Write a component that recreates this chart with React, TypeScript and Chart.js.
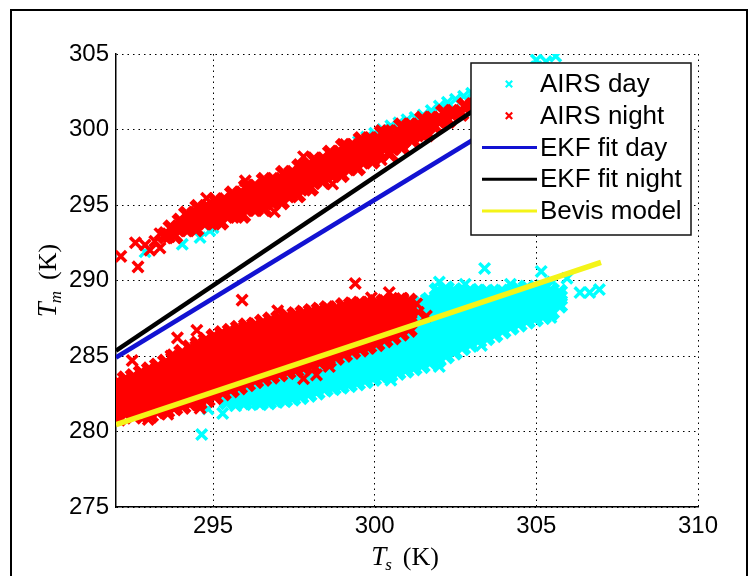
import React, { useEffect, useRef } from 'react';
import { Chart, registerables } from 'chart.js';

Chart.register(...registerables);

// ---------- axes ----------
const xRange = [292, 310];
const yRange = [275, 305];
const xTickValues = [295, 300, 305, 310];
const yTickValues = [275, 280, 285, 290, 295, 300, 305];

const seriesLabels = ['AIRS day', 'AIRS night', 'EKF fit day', 'EKF fit night', 'Bevis model'];

// ---------- AIRS night, upper cluster: rows [Tm, [Ts, ...]] ----------
const nightUpperRows: [number, number[]][] = [
  [293.0, [293.55, 293.8]],
  [293.45, [293.72, 293.95, 294.2, 294.45]],
  [293.9, [294.0, 294.25, 294.5, 294.75, 295.0, 295.22]],
  [294.35, [294.2, 294.45, 294.7, 294.95, 295.2, 295.45, 295.7, 295.9]],
  [294.8, [294.55, 294.8, 295.05, 295.3, 295.55, 295.8, 296.05, 296.3, 296.55]],
  [295.25, [295.1, 295.35, 295.6, 295.85, 296.1, 296.35, 296.6, 296.85, 297.1]],
  [295.7, [295.62, 295.87, 296.12, 296.37, 296.62, 296.87, 297.12, 297.37, 297.6]],
  [296.15, [296.05, 296.3, 296.55, 296.8, 297.05, 297.3, 297.55, 297.8, 298.0]],
  [296.6, [296.6, 296.85, 297.1, 297.35, 297.6, 297.85, 298.1, 298.38]],
  [297.05, [297.2, 297.45, 297.7, 297.95, 298.2, 298.45, 298.7, 298.95]],
  [297.5, [297.7, 297.95, 298.2, 298.45, 298.7, 298.95, 299.2, 299.45]],
  [297.95, [298.15, 298.4, 298.65, 298.9, 299.15, 299.4, 299.65, 299.9]],
  [298.4, [298.65, 298.9, 299.15, 299.4, 299.65, 299.9, 300.15, 300.45]],
  [298.85, [299.05, 299.3, 299.55, 299.8, 300.05, 300.3, 300.55, 300.82]],
  [299.3, [299.6, 299.85, 300.1, 300.35, 300.6, 300.85, 301.15]],
  [299.75, [300.25, 300.45, 300.7, 300.95, 301.2, 301.45, 301.6]],
  [300.2, [300.85, 301.1, 301.35, 301.6, 301.85]],
  [300.65, [301.5, 301.75, 302.0, 302.25]],
  [301.1, [302.15, 302.4, 302.65]],
  [301.55, [302.8, 303.05]],
  [302.0, [303.4, 303.6]],
];
const nightUpperExtra: number[][] = [
  [292.15, 291.6], [292.6, 292.5], [292.9, 292.35], [293.05, 292.0], [293.36, 292.15],
  [293.36, 293.1], [293.65, 292.9], [292.68, 290.9], [294.8, 295.45], [293.2, 292.6],
  [296.0, 296.6], [297.8, 298.2], [299.1, 299.0], [296.9, 294.55], [298.7, 296.4], [300.2, 298.0],
];

// ---------- AIRS night, lower cluster: columns [Ts, [Tm, ...]] ----------
const nightLowerCols: [number, number[]][] = [
  [292.05, [281.0, 281.45, 281.9, 282.35, 282.8, 283.25]],
  [292.3, [281.2, 281.65, 282.1, 282.55, 283.0, 283.45]],
  [292.55, [281.05, 281.5, 281.95, 282.4, 282.85, 283.3, 283.6]],
  [292.8, [281.25, 281.7, 282.15, 282.6, 283.05, 283.5, 283.85]],
  [293.05, [281.1, 281.55, 282.0, 282.45, 282.9, 283.35, 283.8, 284.05]],
  [293.3, [281.35, 281.8, 282.25, 282.7, 283.15, 283.6, 284.05, 284.3]],
  [293.55, [281.4, 281.85, 282.3, 282.75, 283.2, 283.65, 284.1, 284.55]],
  [293.8, [281.6, 282.05, 282.5, 282.95, 283.4, 283.85, 284.3, 284.75, 284.9]],
  [294.05, [281.7, 282.15, 282.6, 283.05, 283.5, 283.95, 284.4, 284.85, 285.2]],
  [294.3, [281.9, 282.35, 282.8, 283.25, 283.7, 284.15, 284.6, 285.05, 285.5]],
  [294.55, [281.95, 282.4, 282.85, 283.3, 283.75, 284.2, 284.65, 285.1, 285.55, 285.75]],
  [294.8, [282.15, 282.6, 283.05, 283.5, 283.95, 284.4, 284.85, 285.3, 285.75, 286.0]],
  [295.05, [282.35, 282.8, 283.25, 283.7, 284.15, 284.6, 285.05, 285.5, 285.95, 286.25]],
  [295.3, [282.6, 283.05, 283.5, 283.95, 284.4, 284.85, 285.3, 285.75, 286.2, 286.45]],
  [295.55, [282.8, 283.25, 283.7, 284.15, 284.6, 285.05, 285.5, 285.95, 286.4, 286.6]],
  [295.8, [283.0, 283.45, 283.9, 284.35, 284.8, 285.25, 285.7, 286.15, 286.6, 286.8]],
  [296.05, [283.2, 283.65, 284.1, 284.55, 285.0, 285.45, 285.9, 286.35, 286.8, 286.95]],
  [296.3, [283.4, 283.85, 284.3, 284.75, 285.2, 285.65, 286.1, 286.55, 287.0]],
  [296.55, [283.55, 284.0, 284.45, 284.9, 285.35, 285.8, 286.25, 286.7, 287.2]],
  [296.8, [283.7, 284.15, 284.6, 285.05, 285.5, 285.95, 286.4, 286.85, 287.35]],
  [297.05, [283.85, 284.3, 284.75, 285.2, 285.65, 286.1, 286.55, 287.0, 287.45]],
  [297.3, [284.0, 284.45, 284.9, 285.35, 285.8, 286.25, 286.7, 287.15, 287.6]],
  [297.55, [284.1, 284.55, 285.0, 285.45, 285.9, 286.35, 286.8, 287.25, 287.7]],
  [297.8, [284.25, 284.7, 285.15, 285.6, 286.05, 286.5, 286.95, 287.4, 287.8]],
  [298.05, [284.4, 284.85, 285.3, 285.75, 286.2, 286.65, 287.1, 287.55, 287.9]],
  [298.3, [284.6, 285.05, 285.5, 285.95, 286.4, 286.85, 287.3, 287.75, 288.0]],
  [298.55, [284.75, 285.2, 285.65, 286.1, 286.55, 287.0, 287.45, 287.9, 288.1]],
  [298.8, [284.95, 285.4, 285.85, 286.3, 286.75, 287.2, 287.65, 288.1]],
  [299.05, [285.15, 285.6, 286.05, 286.5, 286.95, 287.4, 287.85, 288.3]],
  [299.3, [285.35, 285.8, 286.25, 286.7, 287.15, 287.6, 288.05, 288.35]],
  [299.55, [285.5, 285.95, 286.4, 286.85, 287.3, 287.75, 288.2, 288.4]],
  [299.8, [285.7, 286.15, 286.6, 287.05, 287.5, 287.95, 288.4]],
  [300.05, [285.85, 286.3, 286.75, 287.2, 287.65, 288.1, 288.5]],
  [300.3, [286.1, 286.55, 287.0, 287.45, 287.9, 288.35, 288.55]],
  [300.55, [286.3, 286.75, 287.2, 287.65, 288.1, 288.55]],
  [300.8, [286.55, 287.0, 287.45, 287.9, 288.35, 288.65]],
  [301.05, [286.8, 287.25, 287.7, 288.15, 288.6]],
];
const nightLowerExtra: number[][] = [
  [292.5, 284.7], [293.9, 286.2], [294.5, 286.7], [295.9, 288.7], [297.0, 288.0],
  [299.4, 289.8], [299.9, 288.85], [300.45, 289.2], [300.86, 288.8], [301.1, 288.3],
  [293.0, 280.8], [293.6, 281.15], [292.1, 280.75], [294.6, 281.55], [293.7, 285.0],
  [297.8, 283.5], [298.2, 283.75], [298.6, 284.3], [299.8, 285.5], [301.35, 287.9],
  [301.6, 287.65], [301.3, 288.45],
];

// ---------- AIRS day, upper cluster (mostly hidden under night) ----------
const dayUpperPairs: number[][] = [
  [299.5, 299.2], [299.75, 299.5], [300.0, 299.75], [300.25, 300.0], [300.5, 300.25],
  [300.75, 300.45], [301.0, 300.65], [301.25, 300.8], [301.5, 300.95], [301.75, 301.25],
  [302.0, 301.55], [302.25, 301.8], [302.5, 302.0], [302.75, 302.2], [303.0, 302.4],
  [303.5, 302.75], [304.0, 303.2], [304.5, 303.7], [305.0, 304.15], [305.0, 304.6],
  [305.3, 304.5], [305.6, 304.85],
  [292.9, 291.9], [294.05, 292.4], [294.6, 292.85], [294.9, 293.3], [295.0, 293.5],
  [296.0, 294.8], [297.0, 295.7], [298.0, 296.6], [299.0, 297.6], [300.0, 298.6],
  [301.0, 299.6], [302.0, 300.6],
];

// ---------- AIRS day, lower cluster: columns [Ts, [Tm, ...]] ----------
const dayLowerCols: [number, number[]][] = [
  [295.45, [282.0, 282.45]],
  [295.7, [282.0, 282.45, 282.9]],
  [295.95, [281.95, 282.4, 282.85, 283.3]],
  [296.2, [282.0, 282.45, 282.9, 283.35]],
  [296.45, [281.95, 282.4, 282.85, 283.3, 283.75]],
  [296.7, [282.0, 282.45, 282.9, 283.35, 283.8]],
  [296.95, [282.1, 282.55, 283.0, 283.45, 283.9]],
  [297.2, [282.15, 282.6, 283.05, 283.5, 283.95]],
  [297.45, [282.25, 282.7, 283.15, 283.6, 284.05]],
  [297.7, [282.35, 282.8, 283.25, 283.7, 284.15, 284.55]],
  [297.95, [282.5, 282.95, 283.4, 283.85, 284.3, 284.7]],
  [298.2, [282.65, 283.1, 283.55, 284.0, 284.45, 284.9]],
  [298.45, [282.85, 283.3, 283.75, 284.2, 284.65, 285.1]],
  [298.7, [282.95, 283.4, 283.85, 284.3, 284.75, 285.2]],
  [298.95, [283.05, 283.5, 283.95, 284.4, 284.85, 285.3]],
  [299.2, [283.15, 283.6, 284.05, 284.5, 284.95, 285.4]],
  [299.45, [283.25, 283.7, 284.15, 284.6, 285.05, 285.5]],
  [299.7, [283.4, 283.85, 284.3, 284.75, 285.2, 285.65, 286.1]],
  [299.95, [283.55, 284.0, 284.45, 284.9, 285.35, 285.8, 286.25]],
  [300.2, [283.7, 284.15, 284.6, 285.05, 285.5, 285.95, 286.4]],
  [300.45, [283.8, 284.25, 284.7, 285.15, 285.6, 286.05, 286.5, 286.95]],
  [300.7, [283.95, 284.4, 284.85, 285.3, 285.75, 286.2, 286.65, 287.1]],
  [300.95, [284.1, 284.55, 285.0, 285.45, 285.9, 286.35, 286.8, 287.25, 287.7]],
  [301.2, [284.25, 284.7, 285.15, 285.6, 286.05, 286.5, 286.95, 287.4, 287.85, 288.3]],
  [301.45, [284.4, 284.85, 285.3, 285.75, 286.2, 286.65, 287.1, 287.55, 288.0, 288.45]],
  [301.7, [284.6, 285.05, 285.5, 285.95, 286.4, 286.85, 287.3, 287.75, 288.2, 288.65]],
  [301.95, [284.8, 285.25, 285.7, 286.15, 286.6, 287.05, 287.5, 287.95, 288.4, 288.85, 289.3]],
  [302.2, [285.05, 285.5, 285.95, 286.4, 286.85, 287.3, 287.75, 288.2, 288.65, 289.1, 289.4]],
  [302.45, [285.3, 285.75, 286.2, 286.65, 287.1, 287.55, 288.0, 288.45, 288.9, 289.3]],
  [302.7, [285.6, 286.05, 286.5, 286.95, 287.4, 287.85, 288.3, 288.75, 289.2]],
  [302.95, [285.8, 286.25, 286.7, 287.15, 287.6, 288.05, 288.5, 288.95, 289.25]],
  [303.2, [286.05, 286.5, 286.95, 287.4, 287.85, 288.3, 288.75, 289.2]],
  [303.45, [286.25, 286.7, 287.15, 287.6, 288.05, 288.5, 288.95, 289.2]],
  [303.7, [286.45, 286.9, 287.35, 287.8, 288.25, 288.7, 289.15]],
  [303.95, [286.7, 287.15, 287.6, 288.05, 288.5, 288.95, 289.2]],
  [304.2, [286.95, 287.4, 287.85, 288.3, 288.75, 289.2]],
  [304.45, [287.15, 287.6, 288.05, 288.5, 288.95, 289.4]],
  [304.7, [287.35, 287.8, 288.25, 288.7, 289.15, 289.45]],
  [304.95, [287.5, 287.95, 288.4, 288.85, 289.3]],
  [305.2, [287.65, 288.1, 288.55, 289.0, 289.45]],
  [305.45, [287.95, 288.4, 288.85, 289.3]],
  [305.7, [288.4, 288.85, 289.2]],
];
const dayLowerExtra: number[][] = [
  [294.65, 279.8], [295.3, 281.2], [294.85, 281.5], [295.7, 281.7], [303.4, 290.8],
  [305.15, 290.6], [305.95, 290.15], [306.35, 289.2], [306.65, 289.2], [306.95, 289.4],
  [302.0, 289.9], [302.8, 289.75], [304.2, 289.75], [305.5, 289.9], [300.5, 283.4],
  [302.0, 284.3], [303.3, 285.7], [305.45, 287.55], [301.6, 288.7],
];

// ---------- fitted lines (end points) ----------
const ekfDayTs = [292, 305];
const ekfDayTm = [284.9, 301.87];
const ekfNightTs = [292, 304];
const ekfNightTm = [285.35, 302.6];
const bevisTs = [292, 307];
const bevisTm = [280.45, 291.2];

// ---------- styles ----------
const CYAN = '#00ffff';
const RED = '#ff0000';
const BLUE = '#1212d2';
const BLACK = '#000000';
const YELLOW = '#f4f418';
const SANS = '"Liberation Sans", Arial, sans-serif';
const SERIF = '"Liberation Serif", "Times New Roman", serif';

type Pt = { x: number; y: number };
const rowsToPoints = (rows: [number, number[]][]): Pt[] =>
  rows.flatMap(([y, xs]) => xs.map((x) => ({ x, y })));
const colsToPoints = (cols: [number, number[]][]): Pt[] =>
  cols.flatMap(([x, ys]) => ys.map((y) => ({ x, y })));
const pairsToPoints = (pairs: number[][]): Pt[] => pairs.map(([x, y]) => ({ x, y }));
const lineToPoints = (xs: number[], ys: number[]): Pt[] => xs.map((x, i) => ({ x, y: ys[i] }));

const framePlugin = {
  id: 'frame',
  beforeDraw(chart: any) {
    const ctx = chart.ctx;
    ctx.save();
    ctx.fillStyle = '#ffffff';
    ctx.fillRect(0, 0, chart.width, chart.height);
    ctx.restore();
  },
  afterDraw(chart: any) {
    const ctx = chart.ctx;
    ctx.save();
    ctx.strokeStyle = '#000';
    ctx.lineWidth = 2;
    ctx.strokeRect(11, 10, 736, 600);
    ctx.restore();
  },
};

function drawMathLabel(ctx: CanvasRenderingContext2D, cx: number, base: number, sub: string) {
  const fMain = `italic 27px ${SERIF}`;
  const fSub = `italic 17px ${SERIF}`;
  const fRest = `26px ${SERIF}`;
  ctx.font = fMain;
  const wT = ctx.measureText('T').width;
  ctx.font = fSub;
  const wS = ctx.measureText(sub).width;
  ctx.font = fRest;
  const wR = ctx.measureText('(K)').width;
  const gap = 10;
  const total = wT + wS + gap + wR;
  const x0 = cx - total / 2;
  ctx.fillStyle = '#000';
  ctx.textBaseline = 'alphabetic';
  ctx.textAlign = 'left';
  ctx.font = fMain;
  ctx.fillText('T', x0, base);
  ctx.font = fSub;
  ctx.fillText(sub, x0 + wT - 1, base + 5);
  ctx.font = fRest;
  ctx.fillText('(K)', x0 + wT + wS + gap, base);
}

const titlePlugin = {
  id: 'axisTitles',
  afterDraw(chart: any) {
    const ctx = chart.ctx;
    const a = chart.chartArea;
    ctx.save();
    drawMathLabel(ctx, (a.left + a.right) / 2 - 2, 565, 's');
    ctx.translate(56, (a.top + a.bottom) / 2);
    ctx.rotate(-Math.PI / 2);
    drawMathLabel(ctx, 0, 0, 'm');
    ctx.restore();
  },
};

const legendPlugin = {
  id: 'boxLegend',
  afterDraw(chart: any) {
    const ctx = chart.ctx;
    const bx = 471, by = 63, bw = 220, bh = 172;
    ctx.save();
    ctx.fillStyle = '#fff';
    ctx.fillRect(bx, by, bw, bh);
    ctx.strokeStyle = '#111';
    ctx.lineWidth = 1.5;
    ctx.strokeRect(bx, by, bw, bh);
    chart.data.datasets.forEach((ds: any, i: number) => {
      const y = 84 + i * 31.75;
      const color = ds.borderColor;
      if (ds.showLine) {
        ctx.strokeStyle = color;
        ctx.lineWidth = 3;
        ctx.beginPath();
        ctx.moveTo(482, y);
        ctx.lineTo(537, y);
        ctx.stroke();
      } else {
        ctx.strokeStyle = color;
        ctx.lineWidth = 2.2;
        const h = 3.2;
        ctx.beginPath();
        ctx.moveTo(509 - h, y - h);
        ctx.lineTo(509 + h, y + h);
        ctx.moveTo(509 - h, y + h);
        ctx.lineTo(509 + h, y - h);
        ctx.stroke();
      }
      ctx.fillStyle = '#000';
      ctx.font = `26px ${SANS}`;
      ctx.textBaseline = 'middle';
      ctx.textAlign = 'left';
      ctx.fillText(ds.label, 540, y + 1);
    });
    ctx.restore();
  },
};

export default function App() {
  const ref = useRef<HTMLCanvasElement | null>(null);
  useEffect(() => {
    if (!ref.current) return;
    const dayCore = colsToPoints(dayLowerCols);
    const dayPoints = [
      ...dayCore,
      ...pairsToPoints(dayUpperPairs),
      ...pairsToPoints(dayLowerExtra),
    ];
    const nightCore = [...rowsToPoints(nightUpperRows), ...colsToPoints(nightLowerCols)];
    const nightPoints = [
      ...nightCore,
      ...pairsToPoints(nightUpperExtra),
      ...pairsToPoints(nightLowerExtra),
    ];
    const sizeFor = (coreCount: number) => ({
      pointRadius: (c: any) => (c.dataIndex < coreCount ? 10 : 7.5),
      pointBorderWidth: (c: any) => (c.dataIndex < coreCount ? 6 : 3.5),
    });
    const scatterStyle = { pointStyle: 'crossRot', showLine: false };
    const lineStyle = { showLine: true, pointRadius: 0, borderWidth: 4.5, fill: false, borderCapStyle: 'butt' };
    const grid = { color: '#000', lineWidth: 1, drawTicks: false };
    const border = { display: true, color: '#000', width: 1.5, dash: [1.5, 4] };
    const tickFont = { family: SANS, size: 24 };
    const chart = new Chart(ref.current, {
      type: 'scatter',
      data: {
        datasets: [
          { label: seriesLabels[0], data: dayPoints, borderColor: CYAN, backgroundColor: CYAN, order: 5, ...scatterStyle, ...sizeFor(dayCore.length) },
          { label: seriesLabels[1], data: nightPoints, borderColor: RED, backgroundColor: RED, order: 4, ...scatterStyle, ...sizeFor(nightCore.length) },
          { label: seriesLabels[2], data: lineToPoints(ekfDayTs, ekfDayTm), borderColor: BLUE, backgroundColor: BLUE, order: 3, ...lineStyle },
          { label: seriesLabels[3], data: lineToPoints(ekfNightTs, ekfNightTm), borderColor: BLACK, backgroundColor: BLACK, order: 2, ...lineStyle },
          { label: seriesLabels[4], data: lineToPoints(bevisTs, bevisTm), borderColor: YELLOW, backgroundColor: YELLOW, order: 1, ...lineStyle, borderWidth: 5.5 },
        ] as any,
      },
      options: {
        animation: false,
        responsive: false,
        devicePixelRatio: 1,
        events: [],
        layout: { padding: { left: 0, right: 58, top: 54, bottom: 0 } },
        plugins: { legend: { display: false }, tooltip: { enabled: false }, title: { display: false } },
        scales: {
          x: {
            type: 'linear',
            min: xRange[0],
            max: xRange[1],
            afterBuildTicks: (s: any) => { s.ticks = xTickValues.map((v) => ({ value: v })); },
            afterFit: (s: any) => { s.height = 69; },
            ticks: { font: tickFont, color: '#000', padding: 5, maxRotation: 0, autoSkip: false },
            grid,
            border,
          },
          y: {
            type: 'linear',
            min: yRange[0],
            max: yRange[1],
            afterBuildTicks: (s: any) => { s.ticks = yTickValues.map((v) => ({ value: v })); },
            afterFit: (s: any) => { s.width = 116; },
            ticks: { font: tickFont, color: '#000', padding: 7, autoSkip: false },
            grid,
            border,
          },
        },
      } as any,
      plugins: [framePlugin, titlePlugin, legendPlugin],
    });
    return () => chart.destroy();
  }, []);
  return (
    <div style={{ position: 'absolute', left: 0, top: 0, width: 756, height: 576 }}>
      <canvas ref={ref} width={756} height={576} style={{ display: 'block' }} />
    </div>
  );
}
